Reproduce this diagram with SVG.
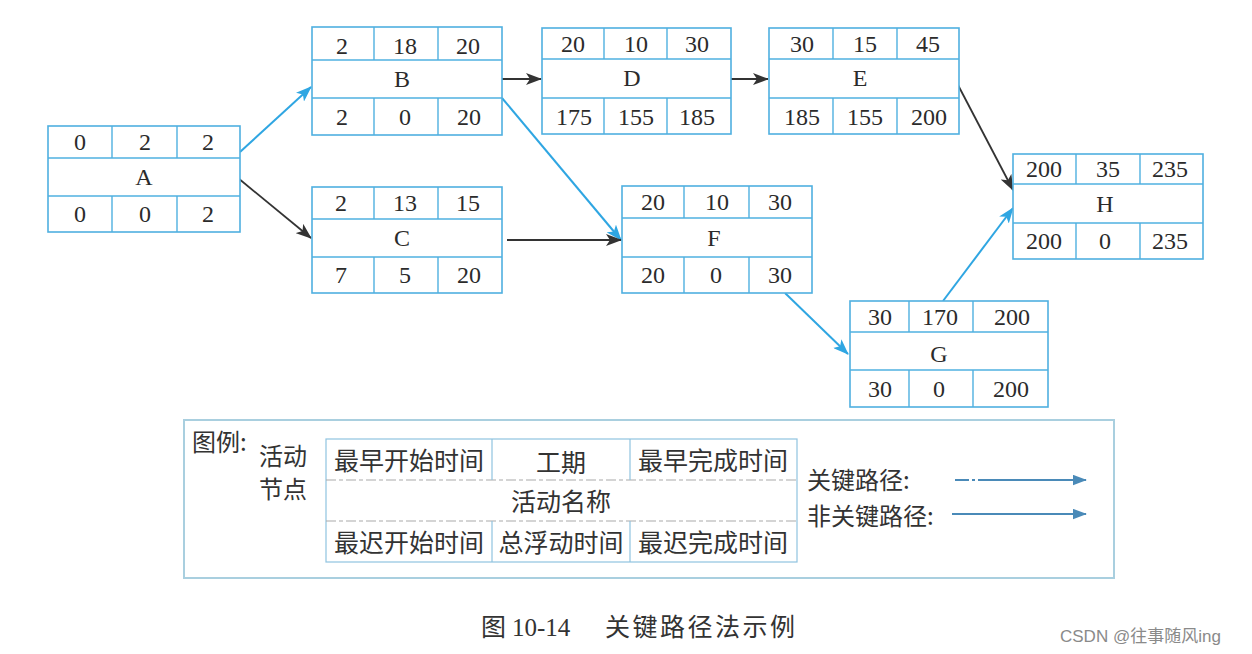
<svg xmlns="http://www.w3.org/2000/svg" width="1252" height="654" viewBox="0 0 1252 654">
<defs>
<style>
.box{fill:#fff;stroke:#4fb0e0;stroke-width:1.6}
.ln{stroke:#4fb0e0;stroke-width:1.4}
.t{font-family:"Liberation Serif","Times New Roman",serif;font-size:24px;fill:#2b2b2b;text-anchor:middle}
.crit{stroke:#2fa6e2;stroke-width:2;fill:none}
.non{stroke:#333;stroke-width:1.8;fill:none}
.cj{font-family:"Noto Sans CJK SC","Noto Sans",sans-serif;font-size:24px;fill:#333}
.ct{font-family:"Noto Sans CJK SC","Noto Sans",sans-serif;font-size:25px;fill:#333;text-anchor:middle}
.lg{stroke:#4a8ab8;stroke-width:1.8;fill:none}
</style>
<marker id="ab" viewBox="0 0 16 12" refX="15" refY="6" markerWidth="16" markerHeight="12" markerUnits="userSpaceOnUse" orient="auto"><path d="M0,0 L16,6 L0,12 L4,6 Z" fill="#2fa6e2"/></marker>
<marker id="ak" viewBox="0 0 16 12" refX="15" refY="6" markerWidth="16" markerHeight="12" markerUnits="userSpaceOnUse" orient="auto"><path d="M0,0 L16,6 L0,12 L4,6 Z" fill="#333"/></marker>
<marker id="al" viewBox="0 0 16 12" refX="15" refY="6" markerWidth="14" markerHeight="11" markerUnits="userSpaceOnUse" orient="auto"><path d="M0,0 L16,6 L0,12 Z" fill="#4a8ab8"/></marker>
</defs>
<rect width="1252" height="654" fill="#fff"/>

<g id="connectors">
<line class="crit" x1="240" y1="152" x2="311" y2="87" marker-end="url(#ab)"/>
<line class="non" x1="238" y1="178" x2="311" y2="238" marker-end="url(#ak)"/>
<line class="non" x1="502" y1="79" x2="541" y2="79" marker-end="url(#ak)"/>
<line class="crit" x1="502" y1="98" x2="621" y2="240" marker-end="url(#ab)"/>
<line class="non" x1="507" y1="240" x2="621" y2="240" marker-end="url(#ak)"/>
<line class="non" x1="731" y1="79" x2="768" y2="79" marker-end="url(#ak)"/>
<line class="non" x1="958" y1="85" x2="1013" y2="190" marker-end="url(#ak)"/>
<line class="crit" x1="785" y1="293" x2="848" y2="354" marker-end="url(#ab)"/>
<line class="crit" x1="943" y1="301" x2="1013" y2="208" marker-end="url(#ab)"/>
</g>

<g id="node-A">
<rect class="box" x="48" y="126" width="192" height="106"/>
<line class="ln" x1="48" y1="158" x2="240" y2="158"/><line class="ln" x1="48" y1="196" x2="240" y2="196"/>
<line class="ln" x1="112" y1="126" x2="112" y2="158"/><line class="ln" x1="177" y1="126" x2="177" y2="158"/>
<line class="ln" x1="112" y1="196" x2="112" y2="232"/><line class="ln" x1="177" y1="196" x2="177" y2="232"/>
<text class="t" x="80" y="150">0</text><text class="t" x="145" y="150">2</text><text class="t" x="208" y="150">2</text>
<text class="t" x="144" y="185">A</text>
<text class="t" x="80" y="222">0</text><text class="t" x="145" y="222">0</text><text class="t" x="208" y="222">2</text>
</g>

<g id="node-B">
<rect class="box" x="312" y="27" width="190" height="108"/>
<line class="ln" x1="312" y1="60" x2="502" y2="60"/><line class="ln" x1="312" y1="98" x2="502" y2="98"/>
<line class="ln" x1="374" y1="27" x2="374" y2="60"/><line class="ln" x1="438" y1="27" x2="438" y2="60"/>
<line class="ln" x1="374" y1="98" x2="374" y2="135"/><line class="ln" x1="438" y1="98" x2="438" y2="135"/>
<text class="t" x="342" y="54">2</text><text class="t" x="405" y="54">18</text><text class="t" x="468" y="54">20</text>
<text class="t" x="402" y="87">B</text>
<text class="t" x="342" y="125">2</text><text class="t" x="405" y="125">0</text><text class="t" x="469" y="125">20</text>
</g>

<g id="node-C">
<rect class="box" x="312" y="187" width="190" height="106"/>
<line class="ln" x1="312" y1="219" x2="502" y2="219"/><line class="ln" x1="312" y1="257" x2="502" y2="257"/>
<line class="ln" x1="374" y1="187" x2="374" y2="219"/><line class="ln" x1="438" y1="187" x2="438" y2="219"/>
<line class="ln" x1="374" y1="257" x2="374" y2="293"/><line class="ln" x1="438" y1="257" x2="438" y2="293"/>
<text class="t" x="341" y="211">2</text><text class="t" x="405" y="211">13</text><text class="t" x="468" y="211">15</text>
<text class="t" x="402" y="246">C</text>
<text class="t" x="341" y="283">7</text><text class="t" x="405" y="283">5</text><text class="t" x="469" y="283">20</text>
</g>

<g id="node-D">
<rect class="box" x="542" y="28" width="189" height="106"/>
<line class="ln" x1="542" y1="59" x2="731" y2="59"/><line class="ln" x1="542" y1="98" x2="731" y2="98"/>
<line class="ln" x1="604" y1="28" x2="604" y2="59"/><line class="ln" x1="667" y1="28" x2="667" y2="59"/>
<line class="ln" x1="604" y1="98" x2="604" y2="134"/><line class="ln" x1="667" y1="98" x2="667" y2="134"/>
<text class="t" x="573" y="52">20</text><text class="t" x="636" y="52">10</text><text class="t" x="697" y="52">30</text>
<text class="t" x="632" y="86">D</text>
<text class="t" x="574" y="125">175</text><text class="t" x="636" y="125">155</text><text class="t" x="697" y="125">185</text>
</g>

<g id="node-E">
<rect class="box" x="769" y="28" width="190" height="106"/>
<line class="ln" x1="769" y1="59" x2="959" y2="59"/><line class="ln" x1="769" y1="98" x2="959" y2="98"/>
<line class="ln" x1="833" y1="28" x2="833" y2="59"/><line class="ln" x1="897" y1="28" x2="897" y2="59"/>
<line class="ln" x1="833" y1="98" x2="833" y2="134"/><line class="ln" x1="897" y1="98" x2="897" y2="134"/>
<text class="t" x="802" y="52">30</text><text class="t" x="865" y="52">15</text><text class="t" x="928" y="52">45</text>
<text class="t" x="860" y="86">E</text>
<text class="t" x="802" y="125">185</text><text class="t" x="865" y="125">155</text><text class="t" x="929" y="125">200</text>
</g>

<g id="node-F">
<rect class="box" x="622" y="186" width="190" height="107"/>
<line class="ln" x1="622" y1="218" x2="812" y2="218"/><line class="ln" x1="622" y1="257" x2="812" y2="257"/>
<line class="ln" x1="684" y1="186" x2="684" y2="218"/><line class="ln" x1="749" y1="186" x2="749" y2="218"/>
<line class="ln" x1="684" y1="257" x2="684" y2="293"/><line class="ln" x1="749" y1="257" x2="749" y2="293"/>
<text class="t" x="653" y="210">20</text><text class="t" x="717" y="210">10</text><text class="t" x="780" y="210">30</text>
<text class="t" x="714" y="246">F</text>
<text class="t" x="653" y="283">20</text><text class="t" x="716" y="283">0</text><text class="t" x="780" y="283">30</text>
</g>

<g id="node-G">
<rect class="box" x="850" y="301" width="198" height="106"/>
<line class="ln" x1="850" y1="332" x2="1048" y2="332"/><line class="ln" x1="850" y1="370" x2="1048" y2="370"/>
<line class="ln" x1="909" y1="301" x2="909" y2="332"/><line class="ln" x1="973" y1="301" x2="973" y2="332"/>
<line class="ln" x1="909" y1="370" x2="909" y2="407"/><line class="ln" x1="973" y1="370" x2="973" y2="407"/>
<text class="t" x="880" y="325">30</text><text class="t" x="940" y="325">170</text><text class="t" x="1012" y="325">200</text>
<text class="t" x="939" y="362">G</text>
<text class="t" x="880" y="397">30</text><text class="t" x="939" y="397">0</text><text class="t" x="1011" y="397">200</text>
</g>

<g id="node-H">
<rect class="box" x="1013" y="154" width="190" height="105"/>
<line class="ln" x1="1013" y1="184" x2="1203" y2="184"/><line class="ln" x1="1013" y1="223" x2="1203" y2="223"/>
<line class="ln" x1="1076" y1="154" x2="1076" y2="184"/><line class="ln" x1="1140" y1="154" x2="1140" y2="184"/>
<line class="ln" x1="1076" y1="223" x2="1076" y2="259"/><line class="ln" x1="1140" y1="223" x2="1140" y2="259"/>
<text class="t" x="1044" y="177">200</text><text class="t" x="1108" y="177">35</text><text class="t" x="1170" y="177">235</text>
<text class="t" x="1105" y="212">H</text>
<text class="t" x="1044" y="249">200</text><text class="t" x="1105" y="249">0</text><text class="t" x="1170" y="249">235</text>
</g>

<g id="legend">
<rect x="184" y="420" width="930" height="158" fill="none" stroke="#a9cfdf" stroke-width="2"/>
<text class="cj" x="192" y="451">图例:</text>
<text class="cj" x="259" y="465" font-size="23">活动</text>
<text class="cj" x="259" y="498" font-size="23">节点</text>
<rect x="326" y="439" width="471" height="123" fill="none" stroke="#8fc3e0" stroke-width="1.2"/>
<line x1="326" y1="480" x2="797" y2="480" stroke="#aaa" stroke-width="1.2" stroke-dasharray="10,3,4,3"/>
<line x1="326" y1="521" x2="797" y2="521" stroke="#aaa" stroke-width="1.2" stroke-dasharray="10,3,4,3"/>
<line x1="492" y1="439" x2="492" y2="480" stroke="#8fc3e0" stroke-width="1.2"/>
<line x1="630" y1="439" x2="630" y2="480" stroke="#8fc3e0" stroke-width="1.2"/>
<line x1="492" y1="521" x2="492" y2="562" stroke="#8fc3e0" stroke-width="1.2"/>
<line x1="630" y1="521" x2="630" y2="562" stroke="#8fc3e0" stroke-width="1.2"/>
<text class="ct" x="409" y="470">最早开始时间</text>
<text class="ct" x="561" y="472">工期</text>
<text class="ct" x="713" y="470">最早完成时间</text>
<text class="ct" x="561" y="511">活动名称</text>
<text class="ct" x="409" y="552">最迟开始时间</text>
<text class="ct" x="561" y="552">总浮动时间</text>
<text class="ct" x="713" y="552">最迟完成时间</text>
<text class="cj" x="807" y="489">关键路径:</text>
<text class="cj" x="807" y="525">非关键路径:</text>
<line class="lg" x1="955" y1="480" x2="1086" y2="480" stroke-dasharray="14,3,3,3,300" marker-end="url(#al)"/>
<line class="lg" x1="952" y1="514" x2="1086" y2="514" marker-end="url(#al)"/>
</g>

<g id="caption">
<text x="481" y="636" font-family="Noto Sans CJK SC, sans-serif" font-size="25" fill="#333">图</text>
<text x="512" y="636" font-family="Liberation Serif, serif" font-size="25" fill="#333">10-14</text>
<text x="605" y="636" font-family="Noto Sans CJK SC, sans-serif" font-size="25" fill="#333" textLength="190">关键路径法示例</text>
<text x="1060" y="642" font-family="Liberation Sans, Noto Sans CJK SC, sans-serif" font-size="17" fill="#8a8a8a">CSDN @往事随风ing</text>
</g>
</svg>
